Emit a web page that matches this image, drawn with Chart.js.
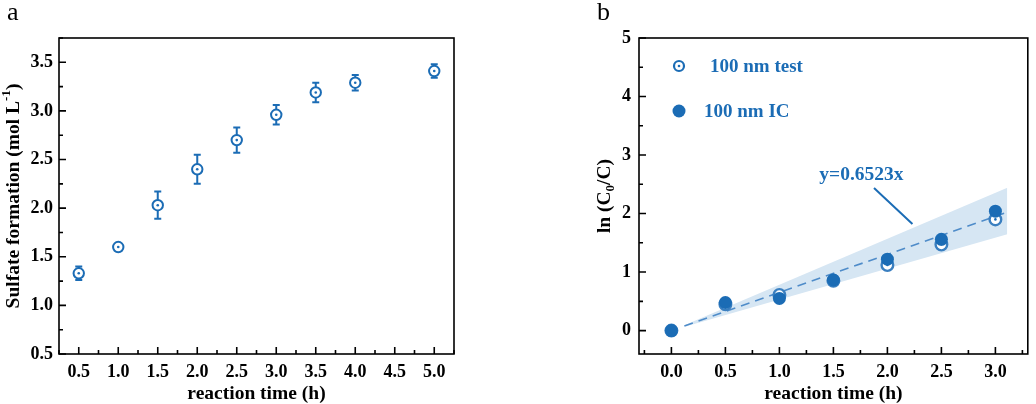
<!DOCTYPE html>
<html>
<head>
<meta charset="utf-8">
<script src="https://cdn.jsdelivr.net/npm/chart.js@4.4.1/dist/chart.umd.min.js"></script>
<style>
  html, body { margin: 0; padding: 0; background: #fff; }
  #wrap { position: relative; width: 1036px; height: 404px; }
  #chartA { position: absolute; left: 0; top: 0; }
  #chartB { position: absolute; left: 520px; top: 0; }
</style>
</head>
<body>
<div id="wrap">
  <canvas id="chartA" width="520" height="404"></canvas>
  <canvas id="chartB" width="516" height="404"></canvas>
</div>
<script>
// --- panel a: sulfate formation vs time ---
const timeA = [0.5, 1.0, 1.5, 2.0, 2.5, 3.0, 3.5, 4.0, 5.0];
const sulfate = [1.33, 1.60, 2.03, 2.40, 2.70, 2.96, 3.19, 3.29, 3.41];
const sulfateErr = [0.07, 0.02, 0.14, 0.15, 0.13, 0.10, 0.10, 0.08, 0.07];
const xTicksA = [0.25, 0.5, 0.75, 1, 1.25, 1.5, 1.75, 2, 2.25, 2.5, 2.75, 3, 3.25, 3.5, 3.75, 4, 4.25, 4.5, 4.75, 5, 5.25];
const yTicksA = [0.5, 0.75, 1, 1.25, 1.5, 1.75, 2, 2.25, 2.5, 2.75, 3, 3.25, 3.5, 3.75];

// --- panel b: ln(C0/C) vs time ---
const timeB = [0.0, 0.5, 1.0, 1.5, 2.0, 2.5, 3.0];
const lnTest = [0.0, 0.45, 0.61, 0.85, 1.12, 1.47, 1.90];
const lnIC = [0.0, 0.48, 0.55, 0.865, 1.22, 1.56, 2.04];
const fitX = [0.12, 3.12];
const fitY = [0.08, 2.03];
const bandX = [0.13, 3.11];
const bandUpper = [0.10, 2.44];
const bandLower = [0.07, 1.645];
const xTicksB = [-0.25, 0, 0.25, 0.5, 0.75, 1, 1.25, 1.5, 1.75, 2, 2.25, 2.5, 2.75, 3, 3.25];
const yTicksB = [0, 0.5, 1, 1.5, 2, 2.5, 3, 3.5, 4, 4.5, 5];

const FONT = '"Liberation Serif", "Times New Roman", serif';
const BLUE = '#1b6cb5';

const isHalf = v => Math.abs(v * 2 - Math.round(v * 2)) < 1e-6;
const isInt = v => Math.abs(v - Math.round(v)) < 1e-6;

// axis title with sub/superscripts, centred on (x, y)
function drawRich(ctx, parts, x, y, rotate) {
  const big = `bold 19.5px ${FONT}`, small = `bold 13px ${FONT}`;
  ctx.save();
  ctx.translate(x, y);
  if (rotate) ctx.rotate(-Math.PI / 2);
  let w = 0;
  parts.forEach(p => { ctx.font = p.s ? small : big; w += ctx.measureText(p.t).width; });
  let cx = -w / 2;
  ctx.fillStyle = '#000';
  ctx.textBaseline = 'alphabetic';
  parts.forEach(p => {
    ctx.font = p.s ? small : big;
    const dy = p.s === 'sup' ? -2 : p.s === 'sub' ? 11 : 6.5;
    ctx.fillText(p.t, cx, dy);
    cx += ctx.measureText(p.t).width;
  });
  ctx.restore();
}

// box frame + inward ticks + titles + panel letter
function makeFrame(xTitle, yTitle, yTitleX, letter, letterX) {
  return {
    id: 'frame',
    afterDraw(chart) {
      const { ctx, chartArea: a, scales } = chart;
      ctx.save();
      ctx.strokeStyle = '#000';
      ctx.lineWidth = 1.6;
      ctx.strokeRect(a.left, a.top, a.right - a.left, a.bottom - a.top);
      ctx.beginPath();
      scales.x.ticks.forEach(t => {
        const px = scales.x.getPixelForValue(t.value);
        const len = t.label ? 7 : 4;
        ctx.moveTo(px, a.bottom);
        ctx.lineTo(px, a.bottom - len);
      });
      scales.y.ticks.forEach(t => {
        const py = scales.y.getPixelForValue(t.value);
        const len = t.label ? 7 : 4;
        ctx.moveTo(a.left, py);
        ctx.lineTo(a.left + len, py);
      });
      ctx.stroke();
      ctx.restore();
      drawRich(ctx, xTitle, (a.left + a.right) / 2, 392, false);
      drawRich(ctx, yTitle, yTitleX, (a.top + a.bottom) / 2, true);
      ctx.save();
      ctx.fillStyle = '#000';
      ctx.font = `26px ${FONT}`;
      ctx.textBaseline = 'alphabetic';
      ctx.fillText(letter, letterX, 20);
      ctx.restore();
    }
  };
}

// small centre dot on open markers
const centreDots = {
  id: 'centreDots',
  afterDatasetDraw(chart, args) {
    const ds = chart.data.datasets[args.index];
    if (!ds.centreDot) return;
    const ctx = chart.ctx;
    ctx.save();
    ctx.fillStyle = BLUE;
    args.meta.data.forEach(p => {
      ctx.beginPath();
      ctx.arc(p.x, p.y, 1.3, 0, Math.PI * 2);
      ctx.fill();
    });
    ctx.restore();
  }
};

const errorBars = {
  id: 'errorBars',
  beforeDatasetsDraw(chart) {
    const { ctx, scales: { x, y } } = chart;
    ctx.save();
    ctx.strokeStyle = BLUE;
    ctx.lineWidth = 2;
    ctx.beginPath();
    timeA.forEach((t, i) => {
      const px = x.getPixelForValue(t);
      const top = y.getPixelForValue(sulfate[i] + sulfateErr[i]);
      const bot = y.getPixelForValue(sulfate[i] - sulfateErr[i]);
      ctx.moveTo(px, top); ctx.lineTo(px, bot);
      ctx.moveTo(px - 3.5, top); ctx.lineTo(px + 3.5, top);
      ctx.moveTo(px - 3.5, bot); ctx.lineTo(px + 3.5, bot);
    });
    ctx.stroke();
    ctx.restore();
  }
};

function tickFont() {
  return { family: FONT, size: 18, weight: 'bold' };
}

new Chart(document.getElementById('chartA'), {
  type: 'scatter',
  data: {
    datasets: [{
      label: 'Sulfate formation',
      data: timeA.map((t, i) => ({ x: t, y: sulfate[i] })),
      pointRadius: 5.2, pointHoverRadius: 5.2,
      pointBorderWidth: 2,
      pointBackgroundColor: '#fff',
      pointBorderColor: BLUE,
      centreDot: true
    }]
  },
  options: {
    responsive: false,
    animation: false,
    layout: { padding: { left: 0, top: 38, right: 66, bottom: 0 } },
    plugins: { legend: { display: false }, tooltip: { enabled: false } },
    scales: {
      x: {
        type: 'linear', min: 0.25, max: 5.25,
        afterBuildTicks: s => { s.ticks = xTicksA.map(v => ({ value: v })); },
        afterFit: s => { s.height = 50; },
        grid: { display: false, drawTicks: false },
        border: { display: false },
        ticks: {
          autoSkip: false, maxRotation: 0, padding: 8, color: '#000', font: tickFont(),
          callback: v => isHalf(v) ? v.toFixed(1) : ''
        }
      },
      y: {
        type: 'linear', min: 0.5, max: 3.75,
        afterBuildTicks: s => { s.ticks = yTicksA.map(v => ({ value: v })); },
        afterFit: s => { s.width = 59; },
        grid: { display: false, drawTicks: false },
        border: { display: false },
        ticks: {
          autoSkip: false, padding: 6, color: '#000', font: tickFont(),
          callback: v => isHalf(v) ? v.toFixed(1) : ''
        }
      }
    }
  },
  plugins: [errorBars, centreDots,
    makeFrame([{ t: 'reaction time (h)' }],
      [{ t: 'Sulfate formation (mol L' }, { t: '-1', s: 'sup' }, { t: ')' }], 12, 'a', 7)]
});

// legend + fit annotation for panel b
const legendB = {
  id: 'legendB',
  afterDraw(chart) {
    const { ctx, scales: { x, y } } = chart;
    const ds = chart.data.datasets;
    ctx.save();
    ctx.fillStyle = BLUE;
    ctx.strokeStyle = BLUE;
    ctx.font = `bold 19px ${FONT}`;
    ctx.textBaseline = 'middle';
    // open marker
    ctx.lineWidth = 2.2;
    ctx.beginPath(); ctx.arc(159, 66, 5, 0, Math.PI * 2); ctx.stroke();
    ctx.beginPath(); ctx.arc(159, 66, 1.3, 0, Math.PI * 2); ctx.fill();
    ctx.fillText(ds[1].label, 190, 67);
    // filled marker
    ctx.beginPath(); ctx.arc(159, 111, 6.5, 0, Math.PI * 2); ctx.fill();
    ctx.fillText(ds[0].label, 184, 112);
    // fit label and pointer
    ctx.textAlign = 'center';
    ctx.font = `bold 19.5px ${FONT}`;
    ctx.fillText('y=0.6523x', x.getPixelForValue(1.76), y.getPixelForValue(2.66));
    ctx.lineWidth = 2;
    ctx.beginPath();
    ctx.moveTo(x.getPixelForValue(1.876), y.getPixelForValue(2.435));
    ctx.lineTo(x.getPixelForValue(2.232), y.getPixelForValue(1.82));
    ctx.stroke();
    ctx.restore();
  }
};

new Chart(document.getElementById('chartB'), {
  type: 'scatter',
  data: {
    datasets: [
      {
        label: '100 nm IC',
        data: timeB.map((t, i) => ({ x: t, y: lnIC[i] })),
        pointRadius: 6.5, pointHoverRadius: 6.5,
        pointBorderWidth: 0,
        pointBackgroundColor: BLUE, pointBorderColor: BLUE,
        order: 0
      },
      {
        label: '100 nm test',
        data: timeB.map((t, i) => ({ x: t, y: lnTest[i] })),
        pointRadius: 5.8, pointHoverRadius: 5.8,
        pointBorderWidth: 2.4,
        pointBackgroundColor: '#fff', pointBorderColor: '#3a7fc0',
        centreDot: true,
        order: 1
      },
      {
        type: 'line',
        label: 'fit',
        data: fitX.map((t, i) => ({ x: t, y: fitY[i] })),
        borderColor: '#4f8cc9', borderWidth: 1.6, borderDash: [9, 6],
        pointRadius: 0, fill: false,
        order: 2
      },
      {
        type: 'line',
        label: 'band upper',
        data: bandX.map((t, i) => ({ x: t, y: bandUpper[i] })),
        borderWidth: 0, pointRadius: 0,
        backgroundColor: 'rgb(214,230,243)',
        fill: '+1',
        order: 3
      },
      {
        type: 'line',
        label: 'band lower',
        data: bandX.map((t, i) => ({ x: t, y: bandLower[i] })),
        borderWidth: 0, pointRadius: 0, fill: false,
        order: 4
      }
    ]
  },
  options: {
    responsive: false,
    animation: false,
    layout: { padding: { left: 72, top: 38, right: 2, bottom: 0 } },
    plugins: { legend: { display: false }, tooltip: { enabled: false } },
    scales: {
      x: {
        type: 'linear', min: -0.3, max: 3.3,
        afterBuildTicks: s => { s.ticks = xTicksB.map(v => ({ value: v })); },
        afterFit: s => { s.height = 50; },
        grid: { display: false, drawTicks: false },
        border: { display: false },
        ticks: {
          autoSkip: false, maxRotation: 0, padding: 8, color: '#000', font: tickFont(),
          callback: v => isHalf(v) ? v.toFixed(1) : ''
        }
      },
      y: {
        type: 'linear', min: -0.4, max: 5,
        afterBuildTicks: s => { s.ticks = yTicksB.map(v => ({ value: v })); },
        afterFit: s => { s.width = 47; },
        grid: { display: false, drawTicks: false },
        border: { display: false },
        ticks: {
          autoSkip: false, padding: 8, color: '#000', font: tickFont(),
          callback: v => isInt(v) ? String(v) : ''
        }
      }
    }
  },
  plugins: [centreDots, legendB,
    makeFrame([{ t: 'reaction time (h)' }],
      [{ t: 'ln (C' }, { t: '0', s: 'sub' }, { t: '/C)' }], 83, 'b', 77)]
});
</script>
</body>
</html>
